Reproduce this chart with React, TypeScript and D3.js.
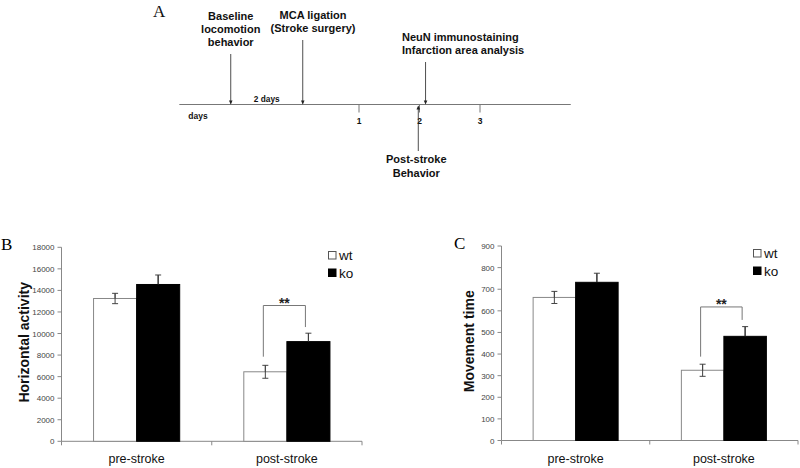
import React from "react";
import * as d3 from "d3";

// ---------- Data ----------
const categories = ["pre-stroke", "post-stroke"];
const seriesNames = ["wt", "ko"];

// Panel B: Horizontal activity
const horizMean = { wt: [13250, 6450], ko: [14550, 9250] };
const horizErr = { wt: [480, 600], ko: [880, 780] };
const horizTicks = [0, 2000, 4000, 6000, 8000, 10000, 12000, 14000, 16000, 18000];
const horizBracket = { top: 12600, leftBottom: 7850, rightBottom: 10600, label: "**" };

// Panel C: Movement time
const moveMean = { wt: [662, 325], ko: [732, 482] };
const moveErr = { wt: [28, 28], ko: [42, 45] };
const moveTicks = [0, 100, 200, 300, 400, 500, 600, 700, 800, 900];
const moveBracket = { top: 618, leftBottom: 388, rightBottom: 558, label: "**" };

// Panel A: timeline (in day units)
const timelineTicks = [1, 2, 3];
const timelineExtent = [-1.97, 4.5];
const topEvents = [
  { day: -1.12, lines: ["Baseline", "locomotion", "behavior"], anchor: "middle", labelDay: -1.12, arrowTop: 54 },
  { day: 0.07, lines: ["MCA ligation", "(Stroke surgery)"], anchor: "middle", labelDay: 0.24, arrowTop: 40 },
  { day: 2.1, lines: ["NeuN immunostaining", "Infarction area analysis"], anchor: "start", labelDay: 1.71, arrowTop: 62 },
];
const bottomEvents = [{ day: 1.98, lines: ["Post-stroke", "Behavior"] }];

const SANS = "'Liberation Sans', Arial, sans-serif";
const SERIF = "'Liberation Serif', 'DejaVu Serif', serif";

type BarPanelProps = {
  x0: number;
  x1: number;
  yTop: number;
  yBottom: number;
  domainMax: number;
  ticks: number[];
  mean: Record<string, number[]>;
  err: Record<string, number[]>;
  bracket: { top: number; leftBottom: number; rightBottom: number; label: string };
  yLabel: string;
  yLabelX: number;
  panelLetter: string;
  letterX: number;
  legendX: number;
  legendY: number;
};

function BarPanel(p: BarPanelProps) {
  const y = d3.scaleLinear().domain([0, p.domainMax]).range([p.yBottom, p.yTop]);
  const x = d3.scaleBand().domain(categories).range([p.x0, p.x1]).paddingInner(0).paddingOuter(0);
  const xs = d3
    .scaleBand()
    .domain(seriesNames)
    .range([0, x.bandwidth()])
    .paddingInner(0)
    .paddingOuter(0.744);
  const bw = xs.bandwidth();
  const postIdx = 1;
  const leftCx = (x(categories[postIdx]) as number) + (xs("wt") as number) + bw / 2 - 2;
  const rightCx = (x(categories[postIdx]) as number) + (xs("ko") as number) + bw / 2 - 3;
  const yMid = (p.yTop + p.yBottom) / 2;
  return (
    <g>
      <text x={p.letterX} y={p.yTop + 3} fontFamily={SERIF} fontSize={17}>
        {p.panelLetter}
      </text>
      {/* y axis */}
      <line x1={p.x0} x2={p.x0} y1={y(0)} y2={y(p.domainMax)} stroke="#888" />
      {p.ticks.map((t) => (
        <g key={t}>
          <line x1={p.x0 - 4} x2={p.x0} y1={y(t)} y2={y(t)} stroke="#888" />
          <text
            x={p.x0 - 7}
            y={y(t) + 3}
            textAnchor="end"
            fontFamily={SANS}
            fontSize={8}
            fill="#444"
          >
            {t}
          </text>
        </g>
      ))}
      {/* x axis */}
      <line x1={p.x0} x2={p.x1} y1={y(0)} y2={y(0)} stroke="#888" />
      {[p.x0, ...categories.map((c) => (x(c) as number) + x.bandwidth())].map((tx, i) => (
        <line key={i} x1={tx} x2={tx} y1={y(0)} y2={y(0) + 4} stroke="#888" />
      ))}
      {/* bars */}
      {categories.map((c, ci) =>
        seriesNames.map((s) => {
          const v = p.mean[s][ci];
          const e = p.err[s][ci];
          const bx = (x(c) as number) + (xs(s) as number);
          const cx = bx + bw / 2;
          const dark = s === "ko";
          return (
            <g key={c + s}>
              <rect
                x={bx}
                y={y(v)}
                width={bw}
                height={y(0) - y(v)}
                fill={dark ? "#000" : "#fff"}
                stroke={dark ? "#000" : "#888"}
                strokeWidth={1}
              />
              <line x1={cx} x2={cx} y1={y(v - e)} y2={y(v + e)} stroke={dark ? "#000" : "#444"} />
              <line x1={cx} x2={cx} y1={y(v)} y2={y(v + e)} stroke="#444" />
              <line x1={cx - 3} x2={cx + 3} y1={y(v + e)} y2={y(v + e)} stroke="#444" />
              <line x1={cx - 3} x2={cx + 3} y1={y(v - e)} y2={y(v - e)} stroke={dark ? "#000" : "#444"} />
            </g>
          );
        })
      )}
      {/* significance bracket */}
      <path
        d={`M${leftCx},${y(p.bracket.leftBottom)}V${y(p.bracket.top)}H${rightCx}V${y(
          p.bracket.rightBottom
        )}`}
        fill="none"
        stroke="#777"
      />
      <text
        x={(leftCx + rightCx) / 2}
        y={y(p.bracket.top) + 2}
        textAnchor="middle"
        fontFamily={SANS}
        fontSize={14}
        fontWeight="bold"
        fill="#222"
      >
        {p.bracket.label}
      </text>
      {/* category labels */}
      {categories.map((c) => (
        <text
          key={c}
          x={(x(c) as number) + x.bandwidth() / 2}
          y={463}
          textAnchor="middle"
          fontFamily={SANS}
          fontSize={12.5}
          fill="#111"
        >
          {c}
        </text>
      ))}
      {/* y label */}
      <text
        transform={`translate(${p.yLabelX},${yMid - 2}) rotate(-90)`}
        textAnchor="middle"
        fontFamily={SANS}
        fontWeight="bold"
        fontSize={14}
        fill="#111"
      >
        {p.yLabel}
      </text>
      {/* legend */}
      {seriesNames.map((s, i) => (
        <g key={s}>
          <rect
            x={p.legendX}
            y={p.legendY + i * 17.5}
            width={7.5}
            height={7.5}
            fill={s === "wt" ? "#fff" : "#000"}
            stroke={s === "wt" ? "#555" : "#000"}
          />
          <text
            x={p.legendX + 10.5}
            y={p.legendY + i * 17.5 + 8.5}
            fontFamily={SANS}
            fontSize={13.5}
            fill="#111"
          >
            {s}
          </text>
        </g>
      ))}
    </g>
  );
}

function Timeline() {
  const tx = d3.scaleLinear().domain([1, 3]).range([359, 480]);
  const lineY = 104.5;
  const fs = 11;
  return (
    <g fontFamily={SANS} fill="#111">
      <text x={153} y={17} fontFamily={SERIF} fontSize={17}>
        A
      </text>
      <line x1={tx(timelineExtent[0])} x2={tx(timelineExtent[1])} y1={lineY} y2={lineY} stroke="#777" />
      {timelineTicks.map((t) => (
        <g key={t}>
          <line x1={tx(t)} x2={tx(t)} y1={lineY} y2={lineY + 8} stroke="#777" />
          <text x={tx(t)} y={124} textAnchor="middle" fontSize={8.5} fontWeight="bold">
            {t}
          </text>
        </g>
      ))}
      <text x={tx(timelineExtent[0]) + 9} y={119} fontSize={8.5} fontWeight="bold">
        days
      </text>
      <text x={(tx(topEvents[0].day) + tx(topEvents[1].day)) / 2} y={102} textAnchor="middle" fontSize={8.3} fontWeight="bold">
        2 days
      </text>
      {topEvents.map((e, i) => {
        const ax = tx(e.day);
        const lx = tx(e.labelDay);
        const firstBase = e.arrowTop - 4 - (e.lines.length - 1) * 12.8 - 4;
        return (
          <g key={i}>
            <line x1={ax} x2={ax} y1={e.arrowTop} y2={lineY - 1} stroke="#222" strokeWidth={0.8} />
            <path d={`M${ax - 1.8},${lineY - 4}L${ax + 1.8},${lineY - 4}L${ax},${lineY}Z`} fill="#222" />
            {e.lines.map((l, j) => (
              <text
                key={j}
                x={lx}
                y={firstBase + j * 12.8}
                textAnchor={e.anchor as any}
                fontSize={fs}
                fontWeight="bold"
              >
                {l}
              </text>
            ))}
          </g>
        );
      })}
      {bottomEvents.map((e, i) => {
        const ax = tx(e.day);
        return (
          <g key={i}>
            <line x1={ax} x2={ax} y1={lineY + 2} y2={151} stroke="#222" strokeWidth={0.8} />
            <path d={`M${ax - 1.8},${lineY + 5}L${ax + 1.8},${lineY + 5}L${ax},${lineY + 1}Z`} fill="#222" />
            {e.lines.map((l, j) => (
              <text key={j} x={ax - 2} y={163 + j * 13.7} textAnchor="middle" fontSize={fs} fontWeight="bold">
                {l}
              </text>
            ))}
          </g>
        );
      })}
    </g>
  );
}

export default function App() {
  return (
    <svg
      width={800}
      height={468}
      style={{ position: "absolute", left: 0, top: 0, background: "#fff" }}
    >
      <rect width={800} height={468} fill="#fff" />
      <Timeline />
      <BarPanel
        x0={61.5}
        x1={362}
        yTop={247.3}
        yBottom={441.3}
        domainMax={18000}
        ticks={horizTicks}
        mean={horizMean}
        err={horizErr}
        bracket={horizBracket}
        yLabel="Horizontal activity"
        yLabelX={29}
        panelLetter="B"
        letterX={1}
        legendX={328.5}
        legendY={251.5}
      />
      <BarPanel
        x0={501.5}
        x1={798}
        yTop={246}
        yBottom={440.5}
        domainMax={900}
        ticks={moveTicks}
        mean={moveMean}
        err={moveErr}
        bracket={moveBracket}
        yLabel="Movement time"
        yLabelX={474}
        panelLetter="C"
        letterX={454}
        legendX={753.5}
        legendY={249.5}
      />
    </svg>
  );
}
